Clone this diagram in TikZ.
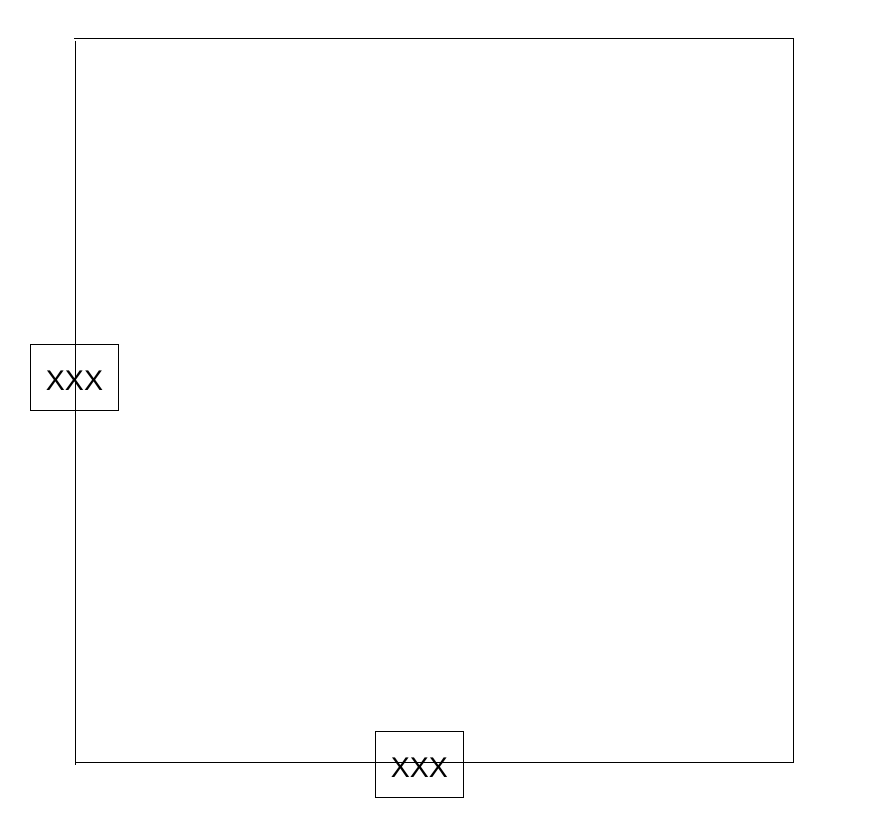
\documentclass[tikz,border=0pt]{standalone}
\usepackage{fontspec}
\setmainfont{Liberation Sans}
\usepackage{tikz}

\tikzset{
	labelbox/.style={draw, line width=1pt, minimum width=88pt, minimum height=66pt,
		inner sep=0pt, text height=25pt, text depth=0pt,
		font=\fontsize{28.5}{34}\selectfont},
}

\begin{document}
\begin{tikzpicture}[x=1pt,y=1pt,line width=1pt]
	\useasboundingbox (0,0) rectangle (878,819);
	\coordinate (TL) at (75,780);
	\coordinate (TR) at (793,780);
	\coordinate (BR) at (793,56);
	\coordinate (BL) at (75,56);
	\draw (74,780)--(TR)--(BR)--(BL);
	\draw (75,778)--(75,54);
	\node[labelbox] (left) at (74.5,441) {XXX};
	\node[labelbox] (bottom) at (419.3,54) {XXX};
\end{tikzpicture}
\end{document}
